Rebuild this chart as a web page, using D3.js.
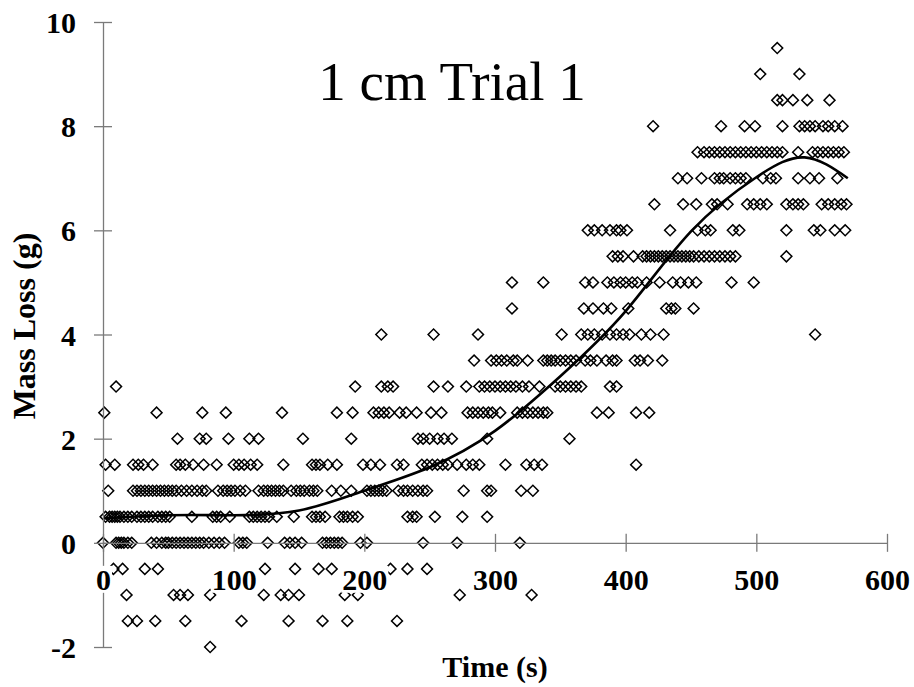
<!DOCTYPE html>
<html>
<head>
<meta charset="utf-8">
<script src="https://cdn.jsdelivr.net/npm/d3@7"></script>
<style>
  body { margin: 0; background: #fff; }
  svg { display: block; font-family: "Liberation Serif", "Times New Roman", serif; }
</style>
</head>
<body>
<svg id="chart" width="914" height="687"></svg>
<script>
// times (s) of the readings on each mass loss level (g)
var tM2 = [82];
var tM15 = [19, 26, 40, 63, 106, 142, 168, 187, 225];
var tM1 = [18, 54, 59, 65, 82, 123, 136, 142, 150, 185, 195, 273, 328];
var tM05 = [8, 15, 32, 42, 124, 147, 165, 175, 220, 233, 248];
var t0 = [0, 10, 12, 14, 16, 19, 22, 37, 41, 45, 48, 50, 53, 56, 59, 62, 65, 68, 71, 74, 77, 81, 85, 89, 93,
  104, 107, 110, 126, 139, 143, 147, 152, 168, 171, 174, 177, 180, 183, 197, 202, 245, 271, 319];
var t05 = [2, 5, 7, 9, 11, 13, 16, 19, 22, 26, 29, 32, 35, 38, 42, 45, 48, 51, 68, 84, 87, 90, 97, 112, 115,
  118, 121, 124, 127, 133, 146, 160, 163, 166, 170, 181, 184, 187, 191, 195, 233, 237, 240, 254, 275, 294];
var t1 = [4, 23, 26, 29, 32, 35, 38, 41, 44, 47, 50, 53, 56, 60, 64, 68, 72, 76, 79, 88, 92, 95, 98, 101, 105,
  109, 119, 123, 126, 129, 132, 135, 138, 144, 148, 151, 154, 158, 161, 164, 175, 182, 190, 202, 205, 208,
  211, 214, 217, 226, 230, 233, 237, 241, 245, 248, 276, 294, 297, 320, 329];
var t15 = [2, 9, 23, 27, 31, 38, 56, 59, 63, 69, 77, 87, 100, 104, 108, 113, 118, 138, 160, 163, 166, 172, 179,
  199, 205, 212, 225, 230, 244, 248, 252, 256, 260, 264, 271, 278, 283, 288, 308, 324, 330, 336, 408];
var t2 = [57, 74, 79, 96, 112, 119, 153, 190, 241, 245, 250, 256, 261, 267, 294, 357];
var t25 = [1, 41, 76, 94, 137, 179, 191, 207, 211, 215, 219, 227, 232, 240, 251, 259, 279, 283, 287, 291, 295,
  298, 304, 317, 321, 325, 329, 333, 337, 340, 378, 387, 408, 418];
var t3 = [10, 193, 213, 218, 222, 253, 264, 278, 288, 292, 296, 300, 304, 308, 312, 316, 321, 326, 334, 346,
  350, 354, 358, 362, 366, 388, 393];
var t35 = [284, 297, 301, 305, 309, 314, 317, 325, 337, 340, 343, 346, 350, 354, 358, 362, 369, 373, 378, 385,
  390, 393, 407, 411, 417, 428];
var t4 = [213, 253, 287, 351, 366, 371, 376, 382, 388, 393, 398, 403, 412, 419, 429, 545];
var t45 = [313, 368, 375, 383, 389, 402, 431, 435, 438, 452];
var t5 = [313, 337, 369, 375, 386, 391, 396, 400, 405, 409, 416, 426, 436, 442, 448, 454, 481, 498];
var t55 = [390, 394, 398, 406, 413, 416, 419, 422, 425, 428, 431, 434, 437, 440, 443, 446, 449, 452, 456, 460,
  464, 468, 472, 476, 480, 484, 523];
var t6 = [371, 376, 382, 388, 393, 396, 401, 434, 455, 461, 465, 482, 487, 523, 544, 549, 560, 568];
var t65 = [422, 444, 454, 466, 470, 478, 493, 498, 503, 508, 523, 528, 532, 536, 550, 555, 560, 565, 569];
var t7 = [440, 447, 458, 468, 472, 475, 480, 484, 488, 492, 505, 511, 515, 532, 541, 548, 562];
var t75 = [455, 460, 464, 468, 472, 476, 480, 484, 488, 492, 496, 500, 504, 508, 512, 516, 520, 532, 543, 547,
  551, 555, 559, 563, 567];
var t8 = [421, 473, 491, 499, 520, 533, 537, 541, 545, 551, 555, 560, 566];
var t85 = [516, 520, 528, 539, 556];
var t9 = [503, 533];
var t95 = [516];

// polynomial trend line
var trendTime = [0, 50, 100, 150, 200, 250, 300, 350, 400, 450, 500, 537, 570];
var trendMass = [0.47, 0.53, 0.53, 0.62, 1.0, 1.45, 2.15, 3.2, 4.45, 5.98, 7.02, 7.4, 7.0];

var xTicks = [0, 100, 200, 300, 400, 500, 600];
var yTicks = [-2, 0, 2, 4, 6, 8, 10];

var levels = [
  [-2, tM2], [-1.5, tM15], [-1, tM1], [-0.5, tM05], [0, t0], [0.5, t05], [1, t1], [1.5, t15],
  [2, t2], [2.5, t25], [3, t3], [3.5, t35], [4, t4], [4.5, t45], [5, t5], [5.5, t55], [6, t6],
  [6.5, t65], [7, t7], [7.5, t75], [8, t8], [8.5, t85], [9, t9], [9.5, t95]
];
var points = [];
levels.forEach(function(l){
  l[1].forEach(function(t){ points.push({t: t, m: l[0]}); });
});

var svg = d3.select("#chart");
var x = d3.scaleLinear().domain([0, 600]).range([103, 887]);
var y = d3.scaleLinear().domain([-2, 10]).range([647, 22]);
var axisColor = "#7a7a7a";

// readings
var diamond = d3.symbol().type(d3.symbolSquare).size(60);
svg.append("g").selectAll("path").data(points).enter().append("path")
  .attr("d", diamond)
  .attr("transform", function(d){ return "translate(" + x(d.t) + "," + y(d.m) + ") rotate(45)"; })
  .attr("fill", "none")
  .attr("stroke", "#000")
  .attr("stroke-width", 1.5);

// trend line
var trend = trendTime.map(function(t, i){ return [t, trendMass[i]]; });
svg.append("path")
  .datum(trend)
  .attr("fill", "none")
  .attr("stroke", "#000")
  .attr("stroke-width", 2.6)
  .attr("d", d3.line().x(function(d){ return x(d[0]); }).y(function(d){ return y(d[1]); }).curve(d3.curveNatural));

// y axis
var yAxis = svg.append("g")
  .attr("transform", "translate(" + x(0) + ",0)")
  .call(d3.axisLeft(y).tickValues(yTicks).tickSize(0).tickFormat(function(d){ return String(d); }));
yAxis.select(".domain").attr("stroke", axisColor).attr("stroke-width", 1.3);
yAxis.selectAll(".tick line").attr("x1", -9).attr("x2", 9).attr("stroke", axisColor).attr("stroke-width", 1.3);
yAxis.selectAll(".tick text")
  .attr("x", -27).attr("dy", "0.35em")
  .attr("fill", "#000")
  .style("font-family", "'Liberation Serif', 'Times New Roman', serif")
  .style("font-size", "30px").style("font-weight", "bold");

// x axis, crossing at zero
var xAxis = svg.append("g")
  .attr("transform", "translate(0," + y(0) + ")")
  .call(d3.axisBottom(x).tickValues(xTicks).tickSize(0).tickFormat(function(d){ return String(d); }));
xAxis.select(".domain").attr("stroke", axisColor).attr("stroke-width", 1.3);
xAxis.selectAll(".tick line").attr("y1", -9).attr("y2", 9).attr("stroke", axisColor).attr("stroke-width", 1.3);
xAxis.selectAll(".tick text")
  .attr("y", 47).attr("dy", 0)
  .attr("fill", "#000")
  .style("font-family", "'Liberation Serif', 'Times New Roman', serif")
  .style("font-size", "30px").style("font-weight", "bold");
xAxis.selectAll(".tick").each(function(){
  var tick = d3.select(this);
  var bb = tick.select("text").node().getBBox();
  tick.insert("rect", "text")
    .attr("x", bb.x - 1).attr("y", bb.y + 3)
    .attr("width", bb.width + 2).attr("height", bb.height - 6)
    .attr("fill", "#fff");
});

// titles
svg.append("text")
  .attr("x", 452).attr("y", 100)
  .attr("text-anchor", "middle")
  .style("font-size", "55px")
  .text("1 cm Trial 1");

svg.append("text")
  .attr("x", x(300)).attr("y", 677)
  .attr("text-anchor", "middle")
  .style("font-size", "30px").style("font-weight", "bold")
  .text("Time (s)");

svg.append("text")
  .attr("transform", "translate(35,326) rotate(-90)")
  .attr("text-anchor", "middle")
  .style("font-size", "32px").style("font-weight", "bold")
  .text("Mass Loss (g)");
</script>
</body>
</html>
